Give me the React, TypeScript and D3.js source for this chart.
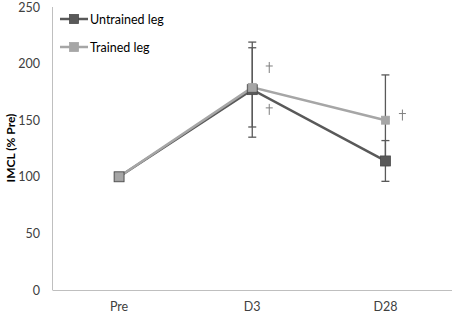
import React from "react";
import * as d3 from "d3";

const categories = ["Pre", "D3", "D28"];
const untrained = [100, 177, 114];
const untrainedErr = [0, 42, 18];
const trained = [100, 179, 150];
const trainedErr = [0, 35, 40];
const yTicks = [0, 50, 100, 150, 200, 250];
const daggers = [
  { cat: "D3", value: 197 },
  { cat: "D3", value: 160 },
  { cat: "D28", value: 155 },
];

const W = 454;
const H = 314;
const font = "Lato, 'Open Sans', sans-serif";

export default function App() {
  const x = d3.scaleBand().domain(categories).range([52.5, 452]);
  const y = d3.scaleLinear().domain([0, 250]).range([290, 7]);
  const cx = (c: string) => (x(c) as number) + x.bandwidth() / 2;
  const line = d3
    .line<number>()
    .x((_, i) => cx(categories[i]))
    .y((d) => y(d));

  const series = [
    { name: "Untrained leg", values: untrained, err: untrainedErr, color: "#595959", size: 10, stroke: "#4a4a4a" },
    { name: "Trained leg", values: trained, err: trainedErr, color: "#a6a6a6", size: 8, stroke: "#a6a6a6" },
  ];

  return (
    <svg width={W} height={H} style={{ position: "absolute", left: 0, top: 0 }} fontFamily={font}>
      <rect width={W} height={H} fill="#fff" />
      {/* axes */}
      <line x1={52.5} x2={52.5} y1={y(250)} y2={y(0)} stroke="#bfbfbf" strokeWidth={1} />
      <line x1={52.5} x2={452} y1={290.5} y2={290.5} stroke="#bfbfbf" strokeWidth={1} />
      {yTicks.map((t) => (
        <text key={t} x={40} y={y(t) + 4.5} textAnchor="end" fontSize={12.5} fill="#404040">
          {t}
        </text>
      ))}
      {categories.map((c) => (
        <text key={c} x={cx(c)} y={311} textAnchor="middle" fontSize={12.5} fill="#404040">
          {c}
        </text>
      ))}
      <text
        transform={`translate(14.5,148) rotate(-90)`}
        textAnchor="middle"
        fontSize={12}
        fontWeight="bold"
        fill="#000"
      >
        IMCL (% Pre)
      </text>
      {/* error bars */}
      {series.map((s) =>
        s.values.map((v, i) =>
          s.err[i] > 0 ? (
            <g key={s.name + i} stroke="#595959" strokeWidth={1.3}>
              <line x1={cx(categories[i])} x2={cx(categories[i])} y1={y(v + s.err[i])} y2={y(v - s.err[i])} />
              <line x1={cx(categories[i]) - 4} x2={cx(categories[i]) + 4} y1={y(v + s.err[i])} y2={y(v + s.err[i])} />
              <line x1={cx(categories[i]) - 4} x2={cx(categories[i]) + 4} y1={y(v - s.err[i])} y2={y(v - s.err[i])} />
            </g>
          ) : null
        )
      )}
      {/* lines */}
      {series.map((s) => (
        <path key={s.name} d={line(s.values) || ""} fill="none" stroke={s.color} strokeWidth={2.5} />
      ))}
      {/* markers */}
      {series.map((s) =>
        s.values.map((v, i) => (
          <rect
            key={s.name + "m" + i}
            x={cx(categories[i]) - s.size / 2}
            y={y(v) - s.size / 2}
            width={s.size}
            height={s.size}
            fill={s.color}
            stroke={s.stroke}
            strokeWidth={0.8}
          />
        ))
      )}
      {/* daggers */}
      {daggers.map((d, i) => {
        const dx = cx(d.cat) + 17;
        const dy = y(d.value);
        return (
          <g key={i} stroke="#7f7f7f" strokeWidth={1}>
            <line x1={dx} x2={dx} y1={dy - 5} y2={dy + 6} />
            <line x1={dx - 3.5} x2={dx + 3.5} y1={dy - 1} y2={dy - 1} />
          </g>
        );
      })}
      {/* legend */}
      {series.map((s, i) => {
        const ly = 19 + i * 28;
        return (
          <g key={s.name}>
            <line x1={60} x2={88} y1={ly} y2={ly} stroke={s.color} strokeWidth={2.5} />
            <rect x={74 - 4.5} y={ly - 4.5} width={9} height={9} fill={s.color} stroke={s.stroke} strokeWidth={0.8} />
            <text x={90} y={ly + 4.5} fontSize={12.5} fill="#000">
              {s.name}
            </text>
          </g>
        );
      })}
    </svg>
  );
}
